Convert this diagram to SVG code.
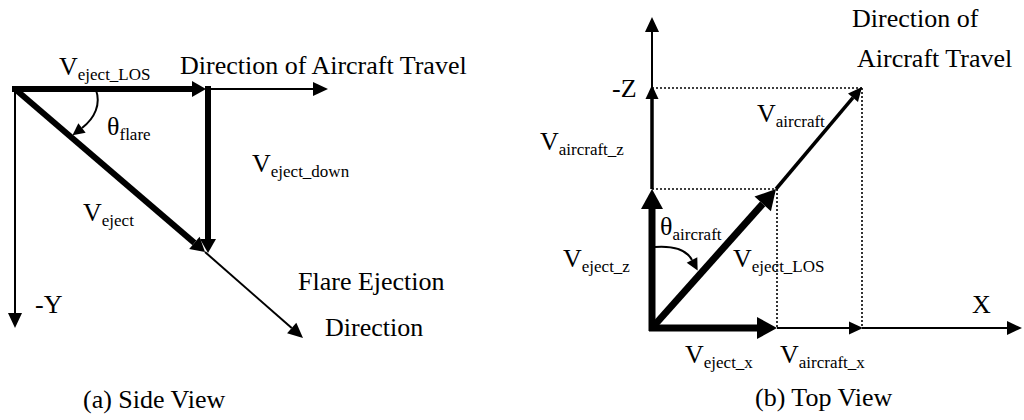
<svg xmlns="http://www.w3.org/2000/svg" width="1024" height="420" viewBox="0 0 1024 420">
<style>
text{font-family:"Liberation Serif","Times New Roman",serif;font-size:26px;fill:#000}
.sub{font-size:17px}
.thick{stroke:#000;stroke-width:6;fill:none}
.thickb{stroke:#000;stroke-width:7;fill:none}
.med{stroke:#000;stroke-width:3.5;fill:none}
.thin{stroke:#000;stroke-width:2;fill:none}
.dot{stroke:#000;stroke-width:1.6;stroke-dasharray:2 2;fill:none}
</style>
<defs>
<marker id="mid" markerUnits="userSpaceOnUse" markerWidth="16" markerHeight="18" refX="0" refY="8" orient="auto" overflow="visible"><path d="M0,0 L14,8 L0,16 z" fill="#000"/></marker>
<marker id="big" markerUnits="userSpaceOnUse" markerWidth="22" markerHeight="24" refX="0" refY="11" orient="auto" overflow="visible"><path d="M0,0 L20,11 L0,22 z" fill="#000"/></marker>
<marker id="thin" markerUnits="userSpaceOnUse" markerWidth="16" markerHeight="16" refX="0" refY="7" orient="auto" overflow="visible"><path d="M0,0 L15,7 L0,14 z" fill="#000"/></marker>
<marker id="medm" markerUnits="userSpaceOnUse" markerWidth="16" markerHeight="14" refX="0" refY="6.5" orient="auto" overflow="visible"><path d="M0,0 L14,6.5 L0,13 z" fill="#000"/></marker>
<marker id="arc" markerUnits="userSpaceOnUse" markerWidth="14" markerHeight="14" refX="0" refY="6" orient="auto" overflow="visible"><path d="M0,0 L12,6 L0,12 z" fill="#000"/></marker>
</defs>

<g id="connectors">
<!-- side view -->
<line class="thick" x1="12" y1="89" x2="192" y2="89" marker-end="url(#mid)"/>
<line class="thin" x1="206" y1="89" x2="313" y2="89" marker-end="url(#thin)"/>
<line class="thick" x1="208" y1="86" x2="208" y2="239" marker-end="url(#mid)"/>
<line class="thick" x1="15" y1="89" x2="194.4" y2="242.9" marker-end="url(#mid)"/>
<line class="thin" x1="205" y1="252" x2="291.7" y2="328.1" marker-end="url(#thin)"/>
<line class="thin" x1="15" y1="89" x2="15" y2="313" marker-end="url(#thin)"/>
<path class="thin" d="M96,90 C101,104 95,118 82,128" marker-end="url(#arc)"/>
<!-- top view -->
<line class="dot" x1="652" y1="88" x2="862" y2="88"/>
<line class="dot" x1="862" y1="88" x2="862" y2="328"/>
<line class="dot" x1="652" y1="189" x2="777" y2="189"/>
<line class="dot" x1="777" y1="189" x2="777" y2="328"/>
<line class="thickb" x1="652" y1="331" x2="652" y2="209" marker-end="url(#big)"/>
<line class="med" x1="652" y1="189" x2="652" y2="99" marker-end="url(#medm)"/>
<line class="thin" x1="652" y1="87" x2="652" y2="32" marker-end="url(#thin)"/>
<line class="thickb" x1="649" y1="328" x2="757" y2="328" marker-end="url(#big)"/>
<line class="thin" x1="777" y1="328" x2="849" y2="328" stroke-width="2.5" marker-end="url(#medm)"/>
<line class="thin" x1="862" y1="328" x2="1007" y2="328" marker-end="url(#thin)"/>
<line class="thickb" x1="652" y1="328" x2="762.7" y2="203.9" marker-end="url(#big)"/>
<line class="med" x1="776" y1="189" x2="853" y2="97.7" marker-end="url(#medm)"/>
<path class="thin" d="M655,247 Q684,245 692,260" marker-end="url(#arc)"/>
</g>

<g id="side-view-labels">
<text x="59" y="75">V<tspan class="sub" dy="5">eject_LOS</tspan></text>
<text x="180" y="74">Direction of Aircraft Travel</text>
<text x="107" y="135">θ<tspan class="sub" dy="5">flare</tspan></text>
<text x="252" y="172">V<tspan class="sub" dy="5">eject_down</tspan></text>
<text x="83" y="221">V<tspan class="sub" dy="5">eject</tspan></text>
<text x="298" y="290">Flare Ejection</text>
<text x="325" y="336">Direction</text>
<text x="35" y="313">-Y</text>
<text x="83" y="408">(a) Side View</text>
</g>

<g id="top-view-labels">
<text x="852" y="27">Direction of</text>
<text x="857" y="67">Aircraft Travel</text>
<text x="612" y="97">-Z</text>
<text x="757" y="122">V<tspan class="sub" dy="5">aircraft</tspan></text>
<text x="540" y="150">V<tspan class="sub" dy="5">aircraft_z</tspan></text>
<text x="660" y="235">θ<tspan class="sub" dy="5">aircraft</tspan></text>
<text x="563" y="267">V<tspan class="sub" dy="5">eject_z</tspan></text>
<text x="733" y="267">V<tspan class="sub" dy="5">eject_LOS</tspan></text>
<text x="972" y="313">X</text>
<text x="685" y="363">V<tspan class="sub" dy="5">eject_x</tspan></text>
<text x="780" y="363">V<tspan class="sub" dy="5">aircraft_x</tspan></text>
<text x="755" y="406">(b) Top View</text>
</g>
</svg>
